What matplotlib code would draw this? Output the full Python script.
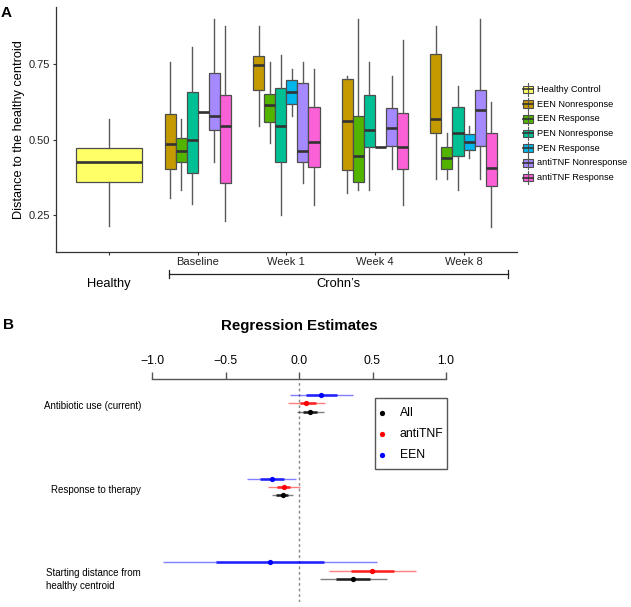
import matplotlib
matplotlib.use("Agg")
import matplotlib.pyplot as plt
from matplotlib import font_manager
from matplotlib.patches import Rectangle
import numpy as np

# ---------------- DATA ----------------
# Panel A: x categories and series
x_categories = ["Healthy", "Baseline", "Week 1", "Week 4", "Week 8"]
series_names = ["Healthy Control", "EEN Nonresponse", "EEN Response", "PEN Nonresponse",
                "PEN Response", "antiTNF Nonresponse", "antiTNF Response"]
series_colors = ["#FFFF66", "#C49A00", "#53B400", "#00C094", "#00B6EB", "#A58AFF", "#FB61D7"]

# five-number summaries (whislo, q1, med, q3, whishi)
healthy_stats = [(0.213, 0.360, 0.425, 0.473, 0.568)]
# per series, for Baseline, Week 1, Week 4, Week 8
een_nonresp = [(0.307, 0.403, 0.485, 0.586, 0.759),
               (0.545, 0.665, 0.748, 0.777, 0.877),
               (0.324, 0.399, 0.563, 0.700, 0.711),
               (0.369, 0.521, 0.569, 0.783, 0.877)]
een_resp = [(0.332, 0.426, 0.462, 0.506, 0.568),
            (0.488, 0.558, 0.616, 0.651, 0.759),
            (0.332, 0.358, 0.446, 0.579, 0.900),
            (0.369, 0.403, 0.440, 0.475, 0.521)]
pen_nonresp = [(0.285, 0.390, 0.498, 0.657, 0.806),
               (0.249, 0.426, 0.545, 0.670, 0.782),
               (0.332, 0.476, 0.533, 0.647, 0.759),
               (0.332, 0.446, 0.521, 0.609, 0.678)]
pen_resp = [(0.593, 0.593, 0.593, 0.593, 0.593),
            (0.579, 0.618, 0.657, 0.697, 0.734),
            (0.475, 0.475, 0.475, 0.475, 0.475),
            (0.440, 0.466, 0.492, 0.518, 0.545)]
antitnf_nonresp = [(0.427, 0.533, 0.579, 0.720, 0.900),
                   (0.355, 0.426, 0.462, 0.688, 0.759),
                   (0.403, 0.479, 0.540, 0.606, 0.710),
                   (0.369, 0.479, 0.598, 0.665, 0.900)]
antitnf_resp = [(0.230, 0.355, 0.545, 0.647, 0.877),
                (0.284, 0.408, 0.492, 0.607, 0.734),
                (0.284, 0.403, 0.476, 0.587, 0.830),
                (0.211, 0.346, 0.407, 0.521, 0.624)]
crohn_series = [een_nonresp, een_resp, pen_nonresp, pen_resp, antitnf_nonresp, antitnf_resp]
y_ticks_a = [0.25, 0.50, 0.75]

# Panel B: regression estimates
predictors = ["Antibiotic use (current)", "Response to therapy",
              "Starting distance from\nhealthy centroid"]
model_names = ["All", "antiTNF", "EEN"]
model_colors = ["#000000", "#FF0000", "#0000FF"]
all_est = [0.078, -0.111, 0.367]
all_lo50 = [0.027, -0.154, 0.254]
all_hi50 = [0.123, -0.072, 0.486]
all_lo95 = [-0.011, -0.184, 0.141]
all_hi95 = [0.168, -0.041, 0.599]
antitnf_est = [0.050, -0.104, 0.499]
antitnf_lo50 = [0.005, -0.150, 0.352]
antitnf_hi50 = [0.114, -0.060, 0.646]
antitnf_lo95 = [-0.075, -0.209, 0.204]
antitnf_hi95 = [0.180, 0.005, 0.794]
een_est = [0.150, -0.186, -0.197]
een_lo50 = [0.046, -0.268, -0.563]
een_hi50 = [0.260, -0.102, 0.168]
een_lo95 = [-0.063, -0.354, -0.925]
een_hi95 = [0.364, -0.022, 0.533]
x_ticks_b = [-1.0, -0.5, 0.0, 0.5, 1.0]

# ---------------- FONTS ----------------
names = {f.name for f in font_manager.fontManager.ttflist}
SANS = "Liberation Sans" if "Liberation Sans" in names else "DejaVu Sans"
if "Liberation Sans Narrow" in names:
    NARROW = "Liberation Sans Narrow"
    nscale = 1.0
else:
    NARROW = SANS
    nscale = 0.84
plt.rcParams["font.family"] = [SANS, "DejaVu Sans"]

W, H = 631, 607
fig = plt.figure(figsize=(W / 100, H / 100), dpi=100)

def fx(px):
    return px / W

def fy(py):
    return 1 - py / H

# ---------------- PANEL A ----------------
axA = fig.add_axes([fx(56), fy(251.7), fx(516.7) - fx(56), fy(7.3) - fy(251.7)])
axA.set_xlim(0.4, 5.6)
axA.set_ylim(0.128, 0.939)

edge = "#4D4D4D"
def stats_dict(s):
    lo, q1, med, q3, hi = s
    return dict(whislo=lo, q1=q1, med=med, q3=q3, whishi=hi, fliers=[])

def draw_boxes(stats, positions, width, color):
    axA.bxp([stats_dict(s) for s in stats], positions=positions, widths=width,
            patch_artist=True, showfliers=False, showcaps=False,
            boxprops=dict(facecolor=color, edgecolor=edge, linewidth=0.9),
            medianprops=dict(color="#333333", linewidth=1.9, solid_capstyle="butt"),
            whiskerprops=dict(color="#5A5A5A", linewidth=1.0),
            manage_ticks=False)

draw_boxes(healthy_stats, [1], 0.75, series_colors[0])
n = len(crohn_series)
dw = 0.75 / n
for i, ser in enumerate(crohn_series):
    pos = [g + 2 + (-0.375 + dw * (i + 0.5)) for g in range(4)]
    draw_boxes(ser, pos, dw, series_colors[i + 1])

for sp in ["top", "right"]:
    axA.spines[sp].set_visible(False)
for sp in ["left", "bottom"]:
    axA.spines[sp].set_color("#333333")
    axA.spines[sp].set_linewidth(0.9)
axA.set_yticks(y_ticks_a)
axA.set_yticklabels(["%.2f" % v for v in y_ticks_a])
axA.set_xticks(range(1, 6))
axA.set_xticklabels([""] + x_categories[1:])
axA.tick_params(axis="both", length=2.5, width=0.8, color="#333333",
                labelsize=8, labelcolor="#222222", pad=1.5)
axA.set_ylabel("Distance to the healthy centroid", fontsize=9.2, labelpad=3)

# group labels below x-axis
fig.text(fx(109.3), fy(284), x_categories[0], ha="center", va="center", fontsize=9.3)
fig.text(fx(338), fy(284), "Crohn\u2019s", ha="center", va="center", fontsize=9.3)
bx0, bx1, by = 168.7, 507.7, 274
fig.add_artist(plt.Line2D([fx(bx0), fx(bx1)], [fy(by), fy(by)], color="#222222", lw=0.9))
for bx in (bx0, bx1):
    fig.add_artist(plt.Line2D([fx(bx), fx(bx)], [fy(by - 4), fy(by + 4)], color="#222222", lw=0.9))

fig.text(fx(6), fy(13), "A", fontsize=11, fontweight="bold", ha="center", va="center")

# legend for panel A (drawn in figure pixel space)
ov = fig.add_axes([0, 0, 1, 1], zorder=5)
ov.set_xlim(0, W)
ov.set_ylim(H, 0)
ov.axis("off")
key_x0, key_w, key_h = 522.5, 10.5, 7.5
for k, (nm, col) in enumerate(zip(series_names, series_colors)):
    yc = 89.3 + k * 14.73
    ov.plot([key_x0 + key_w / 2] * 2, [yc - 6.5, yc + 6.5], color="#5A5A5A", lw=0.8)
    ov.add_patch(Rectangle((key_x0, yc - key_h / 2), key_w, key_h, facecolor=col,
                           edgecolor=edge, lw=0.8))
    ov.plot([key_x0, key_x0 + key_w], [yc, yc], color="#333333", lw=1.2)
    ov.text(537, yc, nm, ha="left", va="center", fontsize=6.6)

# ---------------- PANEL B ----------------
axB = fig.add_axes([fx(152), fy(602), fx(446) - fx(152), fy(379) - fy(602)])
axB.set_xlim(-1.0, 1.0)
axB.set_ylim(-2.374, 0.290)
for sp in ["bottom", "left", "right"]:
    axB.spines[sp].set_visible(False)
axB.spines["top"].set_color("#555555")
axB.spines["top"].set_linewidth(1.0)
axB.xaxis.set_ticks_position("top")
axB.set_xticks(x_ticks_b)
axB.set_xticklabels(["\u22121.0", "\u22120.5", "0.0", "0.5", "1.0"])
axB.tick_params(axis="x", direction="out", length=5.3, width=1.0, color="#555555",
                labelsize=10.5 * nscale, pad=3.5)
for t in axB.get_xticklabels():
    t.set_family([NARROW, "DejaVu Sans"])
axB.set_yticks([])

axB.plot([0, 0], [-2.374, 0.26], linestyle=(0, (2, 2)), color="#888888", lw=1.0, zorder=1)

models = [
    (all_est, all_lo50, all_hi50, all_lo95, all_hi95, -0.1),
    (antitnf_est, antitnf_lo50, antitnf_hi50, antitnf_lo95, antitnf_hi95, 0.0),
    (een_est, een_lo50, een_hi50, een_lo95, een_hi95, 0.1),
]
for (est, lo50, hi50, lo95, hi95, off), col in zip(models, model_colors):
    for g in range(len(predictors)):
        y = -g + off
        axB.plot([lo95[g], hi95[g]], [y, y], color=col, lw=1.0, alpha=0.5,
                 solid_capstyle="butt", clip_on=False, zorder=2)
        axB.plot([lo50[g], hi50[g]], [y, y], color=col, lw=2.0, alpha=0.75,
                 solid_capstyle="butt", clip_on=False, zorder=3)
        axB.plot([est[g]], [y], "o", color=col, ms=3.8, mec="none", clip_on=False, zorder=4)

label_px_y = [405.7, 489.7, 579.7]
for g, lab in enumerate(predictors):
    fig.text(fx(141), fy(label_px_y[g]), lab, ha="right", va="center",
             multialignment="left", fontsize=8.4 * nscale,
             family=[NARROW, "DejaVu Sans"], linespacing=1.35)

fig.text(fx(299), fy(325.7), "Regression Estimates", ha="center", va="center",
         fontsize=12 * (1 if nscale == 1 else 0.9), fontweight="bold",
         family=[NARROW, "DejaVu Sans"])
fig.text(fx(9), fy(325), "B", fontsize=11, fontweight="bold", ha="center", va="center")

# legend for panel B
ov.add_patch(Rectangle((375, 397.7), 71.7, 71.6, facecolor="white",
                       edgecolor="#555555", lw=1.0))
for k, (nm, col) in enumerate(zip(model_names, model_colors)):
    yc = 412.7 + k * 21
    ov.plot([382.3], [yc], "o", color=col, ms=3.8, mec="none")
    ov.text(400, yc, nm, ha="left", va="center", fontsize=10.5 * nscale,
            family=[NARROW, "DejaVu Sans"])

fig.savefig("out.png", dpi=100)
